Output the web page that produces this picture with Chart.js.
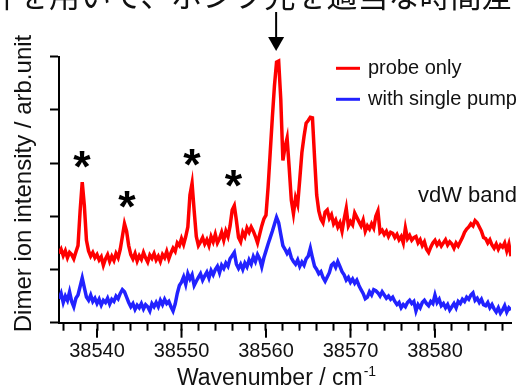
<!DOCTYPE html>
<html>
<head>
<meta charset="utf-8">
<script src="https://cdn.jsdelivr.net/npm/chart.js@4.4.0/dist/chart.umd.min.js"></script>
<style>
  html, body { margin: 0; padding: 0; background: #fff; }
</style>
</head>
<body>
<canvas id="chart" width="528" height="385"></canvas>
<script>
// spectrum sampled every 0.25 cm-1 starting at 38535.5
const wnStart = 38535.5;
const wnStep = 0.25;

const probeOnly = [
  1.30, 1.38,
  1.26, 1.35, 1.22, 1.32,
  1.28, 1.20, 1.33, 1.45,
  2.10, 2.64, 2.20, 1.55,
  1.35, 1.25, 1.32, 1.22,
  1.28, 1.18, 1.24, 1.08,
  1.20, 1.28, 1.15, 1.25,
  1.17, 1.30, 1.22, 1.38,
  1.62, 1.86, 1.72, 1.45,
  1.28, 1.20, 1.30, 1.16,
  1.26, 1.19, 1.32, 1.22,
  1.14, 1.27, 1.21, 1.30,
  1.18, 1.25, 1.15, 1.28,
  1.22, 1.34, 1.20, 1.31,
  1.40, 1.34, 1.50, 1.45,
  1.58, 1.47, 1.62, 1.80,
  2.40, 2.62, 2.10, 1.62,
  1.45, 1.52, 1.60, 1.48,
  1.56, 1.45, 1.62, 1.52,
  1.66, 1.50, 1.58, 1.70,
  1.55, 1.72, 1.62, 1.82,
  2.12, 2.20, 1.92, 1.60,
  1.52, 1.70, 1.62, 1.78,
  1.70, 1.80, 1.72, 1.62,
  1.50, 1.66, 1.82, 1.95,
  2.02, 2.55, 3.20, 3.85,
  4.45, 4.90, 4.92, 4.20,
  3.05, 3.30, 3.47, 2.90,
  2.30, 2.05, 2.35, 2.22,
  2.70, 3.20, 3.50, 3.75,
  3.80, 3.86, 3.85, 3.10,
  2.40, 2.10, 1.95, 1.88,
  2.08, 2.12, 1.96, 2.03,
  1.86, 1.93, 1.80, 1.88,
  1.72, 1.95, 2.15, 1.82,
  1.90, 1.84, 2.06, 1.98,
  1.90, 1.82, 1.93, 1.72,
  1.82, 1.76, 1.86, 1.78,
  2.00, 2.10, 1.70, 1.74,
  1.66, 1.72, 1.62, 1.70,
  1.68, 1.60, 1.66, 1.56,
  1.62, 1.50, 1.78, 1.58,
  1.64, 1.55, 1.60, 1.62,
  1.50, 1.56, 1.45, 1.52,
  1.38, 1.32, 1.42, 1.50,
  1.55, 1.46, 1.52, 1.44,
  1.50, 1.56, 1.46, 1.52,
  1.48, 1.40, 1.50, 1.44,
  1.52, 1.60, 1.70, 1.76,
  1.80, 1.86, 1.82, 1.92,
  1.88, 1.80, 1.72, 1.60,
  1.58, 1.50, 1.56, 1.46,
  1.40, 1.48, 1.38, 1.46,
  1.42, 1.50, 1.35, 1.48,
  1.25
];

const singlePump = [
  0.45, 0.55,
  0.38, 0.50, 0.42, 0.58,
  0.40, 0.30, 0.46, 0.52,
  0.68, 0.84, 0.66, 0.48,
  0.42, 0.52, 0.40, 0.46,
  0.36, 0.44, 0.33, 0.42,
  0.38, 0.46, 0.35, 0.44,
  0.40, 0.50, 0.45, 0.55,
  0.62, 0.58, 0.48, 0.38,
  0.30, 0.36, 0.25, 0.33,
  0.28, 0.36, 0.26, 0.34,
  0.30, 0.22, 0.36, 0.30,
  0.38, 0.30, 0.42, 0.34,
  0.44, 0.36, 0.40, 0.30,
  0.22, 0.35, 0.55, 0.70,
  0.76, 0.86, 0.72, 0.92,
  0.82, 0.90, 0.70, 0.78,
  0.85, 0.92, 0.80, 0.88,
  0.95, 0.84, 0.98, 0.90,
  1.00, 1.06, 0.94, 1.08,
  1.02, 1.12, 1.06, 1.20,
  1.26, 1.32, 1.10, 1.02,
  1.10, 1.00, 1.12, 1.05,
  1.18, 1.10, 1.24, 1.15,
  1.28, 1.20, 1.05, 1.22,
  1.35, 1.48, 1.60, 1.72,
  1.85, 1.98, 1.88, 1.66,
  1.45, 1.38, 1.30, 1.36,
  1.22, 1.15, 1.10, 1.18,
  1.06, 1.14, 1.08, 1.20,
  1.25, 1.40, 1.22, 1.06,
  1.00, 0.92, 0.96, 0.85,
  0.78, 0.86, 0.94, 1.08,
  1.12, 1.04, 1.15, 1.06,
  0.96, 0.90, 0.80, 0.85,
  0.76, 0.82, 0.74, 0.80,
  0.70, 0.62, 0.55, 0.45,
  0.48, 0.58, 0.52, 0.62,
  0.60, 0.56, 0.50, 0.58,
  0.52, 0.46, 0.50, 0.44,
  0.48, 0.40, 0.34, 0.38,
  0.28, 0.34, 0.30, 0.38,
  0.42, 0.36, 0.40, 0.22,
  0.34, 0.28, 0.38, 0.42,
  0.36, 0.32, 0.40, 0.36,
  0.52, 0.38, 0.44, 0.32,
  0.36, 0.28, 0.34, 0.24,
  0.30, 0.36, 0.28, 0.40,
  0.36, 0.44, 0.40, 0.48,
  0.44, 0.52, 0.56, 0.42,
  0.46, 0.38, 0.44, 0.34,
  0.32, 0.38, 0.28, 0.34,
  0.26, 0.20, 0.28, 0.18,
  0.24, 0.32, 0.20, 0.28,
  0.24
];

const seriesNames = ['probe only', 'with single pump'];
const xTickValues = [38536, 38538, 38540, 38542, 38544, 38546, 38548, 38550, 38552, 38554,
  38556, 38558, 38560, 38562, 38564, 38566, 38568, 38570, 38572, 38574, 38576, 38578,
  38580, 38582, 38584, 38586, 38588];
const xMajorTicks = [38540, 38550, 38560, 38570, 38580];
const yTickValues = [0, 1, 2, 3, 4, 5];

// annotations: [wavenumber, level]
const starMarks = [[38538.23, 3.06], [38543.55, 2.31], [38551.23, 3.10], [38556.15, 2.71]];
const arrowAt = 38561.2;

const toPoints = arr => arr.map((v, i) => ({ x: wnStart + i * wnStep, y: v }));
const FONT = "'Liberation Sans', Arial, sans-serif";

const overlay = {
  id: 'overlay',
  afterDraw(chart) {
    const { ctx, scales: { x, y } } = chart;
    ctx.save();
    ctx.fillStyle = '#111';
    ctx.strokeStyle = '#000';

    // longer major ticks
    ctx.lineWidth = 2;
    xMajorTicks.forEach(v => {
      const px = x.getPixelForValue(v);
      ctx.beginPath();
      ctx.moveTo(px, x.top + 6);
      ctx.lineTo(px, x.top + 15);
      ctx.stroke();
    });

    // clipped caption line at the very top
    ctx.font = '31px "Noto Sans CJK JP"';
    ctx.textAlign = 'left';
    ctx.textBaseline = 'alphabetic';
    ctx.fillText('件を用いて、ポンプ光を適当な時間差', -13, 7);

    // arrow over the main band
    const ax = x.getPixelForValue(arrowAt);
    ctx.fillStyle = '#000';
    ctx.lineWidth = 2;
    ctx.beginPath();
    ctx.moveTo(ax, 12);
    ctx.lineTo(ax, 39);
    ctx.stroke();
    ctx.beginPath();
    ctx.moveTo(ax - 8, 37);
    ctx.lineTo(ax + 8, 37);
    ctx.lineTo(ax, 51);
    ctx.closePath();
    ctx.fill();

    // asterisks
    ctx.font = 'bold 100px ' + FONT;
    let m = ctx.measureText('*');
    const size = 100 * 17 / (m.actualBoundingBoxAscent + m.actualBoundingBoxDescent);
    ctx.font = 'bold ' + size + 'px ' + FONT;
    m = ctx.measureText('*');
    ctx.textAlign = 'center';
    starMarks.forEach(([wn, lv]) => {
      const cx = x.getPixelForValue(wn);
      const cy = y.getPixelForValue(lv);
      const base = cy + (m.actualBoundingBoxAscent - m.actualBoundingBoxDescent) / 2;
      ctx.fillText('*', cx, base);
    });

    // legend
    const colors = chart.data.datasets.map(d => d.borderColor);
    const rows = [68.3, 99.3];
    ctx.font = '20px ' + FONT;
    ctx.textAlign = 'left';
    ctx.lineWidth = 3;
    seriesNames.forEach((name, i) => {
      ctx.strokeStyle = colors[i];
      ctx.beginPath();
      ctx.moveTo(336, rows[i]);
      ctx.lineTo(360, rows[i]);
      ctx.stroke();
      ctx.fillStyle = '#111';
      ctx.fillText(name, 368, rows[i] + 5.2);
    });

    // band label
    ctx.font = '22px ' + FONT;
    ctx.fillText('vdW band', 418, 201.5);

    // x title with superscript
    ctx.font = '23px ' + FONT;
    const main = 'Wavenumber / cm';
    const w1 = ctx.measureText(main).width;
    ctx.font = '14px ' + FONT;
    const w2 = ctx.measureText('-1').width;
    const tx = 276 - (w1 + w2) / 2;
    ctx.font = '23px ' + FONT;
    ctx.fillText(main, tx, 385);
    ctx.font = '14px ' + FONT;
    ctx.fillText('-1', tx + w1 + 1, 376);

    // y title
    ctx.font = '24px ' + FONT;
    ctx.translate(31, 183.5);
    ctx.rotate(-Math.PI / 2);
    ctx.textAlign = 'center';
    ctx.fillText('Dimer ion intensity / arb.unit', 0, 0);

    ctx.restore();
  }
};

new Chart(document.getElementById('chart').getContext('2d'), {
  type: 'line',
  data: {
    datasets: [
      {
        label: seriesNames[0],
        data: toPoints(probeOnly),
        borderColor: '#ff0000',
        borderWidth: 3.5,
        pointRadius: 0,
        tension: 0,
      },
      {
        label: seriesNames[1],
        data: toPoints(singlePump),
        borderColor: '#2222ff',
        borderWidth: 3.5,
        pointRadius: 0,
        tension: 0,
      },
    ],
  },
  options: {
    responsive: false,
    animation: false,
    layout: { padding: { top: 56.7, right: 17, left: 0, bottom: 0 } },
    plugins: { legend: { display: false }, tooltip: { enabled: false } },
    scales: {
      x: {
        type: 'linear',
        min: 38535.5,
        max: 38589,
        afterFit: s => { s.height = 62.3; },
        afterBuildTicks: s => { s.ticks = xTickValues.map(v => ({ value: v })); },
        grid: { drawOnChartArea: false, drawTicks: true, tickLength: 8, tickWidth: 2, tickColor: '#000' },
        border: { display: true, color: '#000', width: 2 },
        ticks: {
          autoSkip: false,
          maxRotation: 0,
          padding: 9,
          color: '#111',
          font: { family: FONT, size: 20 },
          callback: v => (xMajorTicks.includes(v) ? String(v) : ''),
        },
      },
      y: {
        min: 0,
        max: 5,
        afterFit: s => { s.width = 59; },
        afterBuildTicks: s => { s.ticks = yTickValues.map(v => ({ value: v })); },
        grid: { drawOnChartArea: false, drawTicks: true, tickLength: 9, tickWidth: 2, tickColor: '#000' },
        border: { display: true, color: '#000', width: 2 },
        ticks: { display: false },
      },
    },
  },
  plugins: [overlay],
});
</script>
</body>
</html>
